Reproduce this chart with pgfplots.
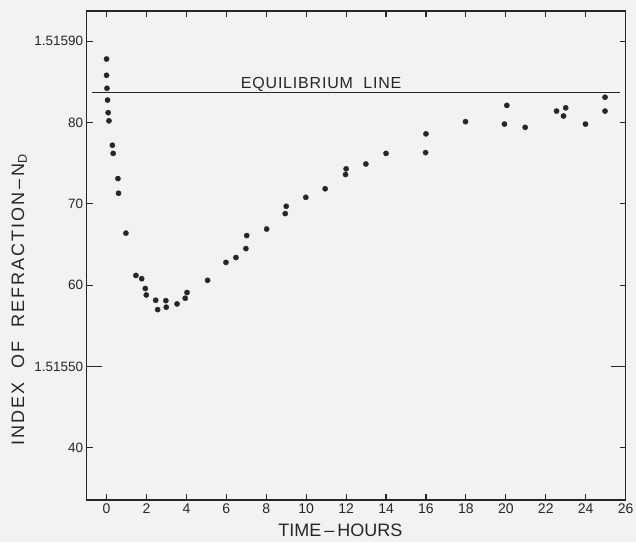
\documentclass[border=0pt]{standalone}
\usepackage{pgfplots}
\pgfplotsset{compat=1.18}
\usepackage{fontspec}
\setmainfont{Liberation Sans}
\definecolor{ink}{HTML}{262626}
\definecolor{paper}{HTML}{F2F2F2}
\begin{document}
\begin{tikzpicture}
\path[use as bounding box, fill=paper] (-86.6pt,-42pt) rectangle (549.4pt,500pt);
\begin{axis}[
    at={(0,0)}, anchor=south west,
    scale only axis, width=539pt, height=489pt,
    xmin=-1, xmax=26, ymin=33.6, ymax=93.7,
    axis line style={ink, line width=1.5pt},
    tick style={ink, line width=1.1pt},
    tick align=inside, major tick length=6pt,
    xtick={0,2,...,26},
    ytick={40,60,70,80,90},
    yticklabels={40,60,70,80,1.51590},
    extra y ticks={50},
    extra y tick labels={1.51550},
    extra y tick style={major tick length=15pt},
    /pgf/number format/assume math mode=true,
    xticklabel style={font=\fontsize{14}{14}\selectfont, text=ink},
    yticklabel style={font=\fontsize{13.5}{14}\selectfont, text=ink},
    xlabel={TIME\,--\,HOURS},
    xlabel style={at={(axis description cs:0.471,-0.061)}, anchor=center,
        font=\fontsize{18}{18}\selectfont, text=ink},
    ylabel={INDEX\ \ OF\ \ REFRACTION\,--\,N\textsubscript{D}},
    ylabel style={at={(axis description cs:-0.125,0.409)}, anchor=center,
        font=\fontsize{18}{18}\selectfont\addfontfeatures{LetterSpace=11}, text=ink},
]

\addplot[ink, line width=1.2pt] coordinates {(-0.75,83.7) (25.7,83.7)};
\node[anchor=base, inner sep=0pt, text=ink,
      font=\fontsize{16}{16}\selectfont\addfontfeatures{LetterSpace=5}]
      at (axis cs:10.75,84.2) {EQUILIBRIUM\ \ LINE};

\addplot[only marks, mark=*, mark size=2.6pt, ink] coordinates {
    (0,87.8) (0,85.8) (0.02,84.2) (0.05,82.75) (0.08,81.2) (0.12,80.2)
    (0.29,77.2) (0.33,76.2) (0.57,73.1) (0.6,71.3) (0.97,66.4)
    (1.47,61.2) (1.76,60.8) (1.94,59.6) (1.99,58.8) (2.46,58.15) (2.56,57.0)
    (2.97,58.1) (2.99,57.3) (3.53,57.7) (3.94,58.4) (4.03,59.1)
    (5.06,60.6) (5.98,62.8) (6.48,63.4) (6.98,64.5) (7.02,66.1)
    (8.02,66.9) (8.95,68.8) (9.0,69.7) (9.98,70.8) (10.95,71.85)
    (11.97,73.6) (12.0,74.3) (12.99,74.9) (14.0,76.2)
    (15.98,76.3) (16.0,78.6) (17.98,80.1)
    (20.05,82.1) (19.93,79.8) (20.97,79.4)
    (22.54,81.4) (23.0,81.8) (22.89,80.8) (23.99,79.8)
    (24.97,83.1) (24.97,81.4)
};
\end{axis}
\end{tikzpicture}
\end{document}
